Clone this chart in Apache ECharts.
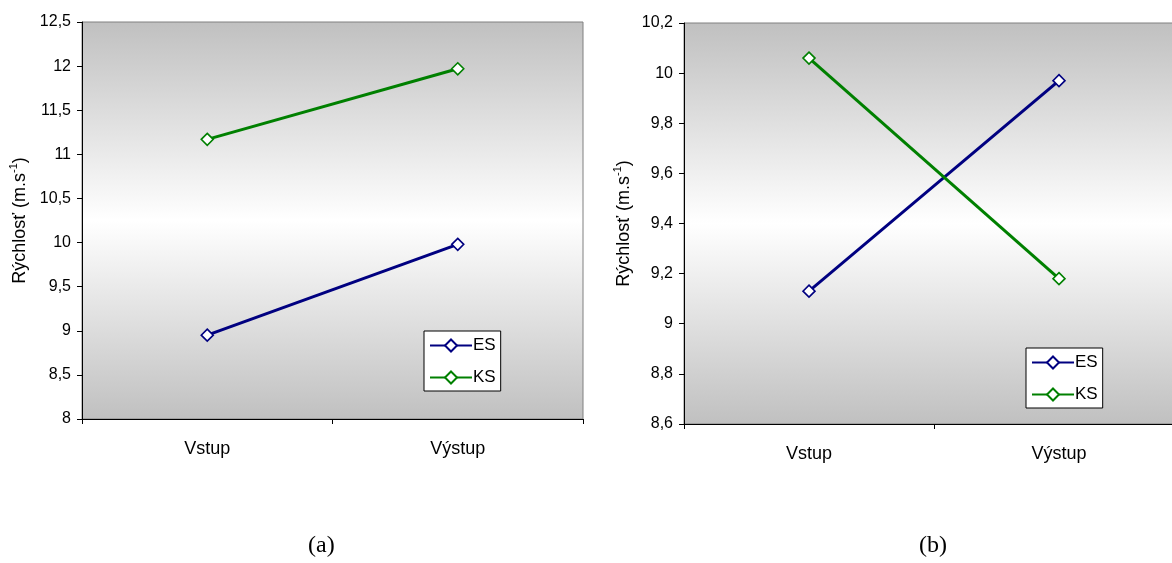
<!DOCTYPE html>
<html>
<head>
<meta charset="utf-8">
<style>
  html, body { margin: 0; padding: 0; background: #ffffff; }
  #chart { width: 1172px; height: 563px; }
</style>
<script src="https://cdn.jsdelivr.net/npm/echarts@6/dist/echarts.min.js"></script>
</head>
<body>
<div id="chart"></div>
<script>
// Categories on the x axis (measurement point)
const categories = ['Vstup', 'Výstup'];

// Panel (a): speed values
const esA = [8.95, 9.98];
const ksA = [11.17, 11.97];

// Panel (b): speed values
const esB = [9.13, 9.97];
const ksB = [10.06, 9.18];

// Series names and panel captions
const seriesNames = ['ES', 'KS'];
const panelCaptions = ['(a)', '(b)'];

const FONT = 'Liberation Sans, Arial, sans-serif';
const ES_COLOR = '#000080';
const KS_COLOR = '#008000';

const chart = echarts.init(document.getElementById('chart'), null, { renderer: 'canvas' });

const plotFill = {
  type: 'linear', x: 0, y: 0, x2: 0, y2: 1,
  colorStops: [
    { offset: 0, color: '#c0c0c0' },
    { offset: 0.5, color: '#ffffff' },
    { offset: 1, color: '#c0c0c0' }
  ]
};

function commaFmt(v) {
  return String(Number(v.toFixed(1))).replace('.', ',');
}

function yAxis(gridIndex, min, max, interval, nameGap) {
  return {
    type: 'value', gridIndex, min, max, interval,
    name: '{a|Rýchlosť (m.s}{b|-1}{a|)}',
    nameLocation: 'middle',
    nameGap,
    nameRotate: 90,
    nameTextStyle: {
      rich: {
        a: { fontFamily: FONT, fontSize: 18, color: '#000', lineHeight: 21, verticalAlign: 'bottom' },
        b: { fontFamily: FONT, fontSize: 11, color: '#000', lineHeight: 21, verticalAlign: 'top', padding: [0, 0, 6, 0] }
      }
    },
    axisLine: { show: true, lineStyle: { color: '#000', width: 1 } },
    axisTick: { show: true, inside: false, length: 5, lineStyle: { color: '#000' } },
    axisLabel: { fontFamily: FONT, fontSize: 16, color: '#000', margin: 11, formatter: commaFmt },
    splitLine: { show: false }
  };
}

function xAxis(gridIndex) {
  return {
    type: 'category', gridIndex, data: categories, boundaryGap: true,
    axisLine: { show: true, lineStyle: { color: '#000', width: 1 } },
    axisTick: { show: true, length: 5, alignWithLabel: false, lineStyle: { color: '#000' } },
    axisLabel: { fontFamily: FONT, fontSize: 18, color: '#000', margin: 21 },
    splitLine: { show: false }
  };
}

function lineSeries(name, data, color, idx) {
  return {
    type: 'line', name, data,
    xAxisIndex: idx, yAxisIndex: idx,
    symbol: 'diamond', symbolSize: 12,
    lineStyle: { color, width: 3 },
    itemStyle: { color: '#ffffff', borderColor: color, borderWidth: 1.6 },
    emphasis: { disabled: true },
    z: 3
  };
}

function legend(left, top) {
  return {
    data: seriesNames,
    orient: 'vertical',
    left, top,
    backgroundColor: '#ffffff',
    borderColor: '#000',
    borderWidth: 1,
    borderRadius: 0,
    padding: [6, 5, 5, 5],
    itemWidth: 42,
    itemHeight: 15,
    itemGap: 15,
    textStyle: { fontFamily: FONT, fontSize: 17, color: '#000', padding: [0, 0, 0, -4] },
    selectedMode: false
  };
}

const option = {
  animation: false,
  backgroundColor: '#ffffff',
  grid: [
    { left: 82, width: 501, top: 22, height: 397, outerBoundsMode: 'none', show: true, backgroundColor: plotFill, borderColor: '#808080', borderWidth: 1 },
    { left: 684, width: 500, top: 23, height: 401, outerBoundsMode: 'none', show: true, backgroundColor: plotFill, borderColor: '#808080', borderWidth: 1 }
  ],
  xAxis: [xAxis(0), xAxis(1)],
  yAxis: [yAxis(0, 8, 12.5, 0.5, 53), yAxis(1, 8.6, 10.2, 0.2, 51)],
  legend: [legend(424, 331), legend(1026, 348)],
  series: [
    lineSeries(seriesNames[0], esA, ES_COLOR, 0),
    lineSeries(seriesNames[1], ksA, KS_COLOR, 0),
    lineSeries(seriesNames[0], esB, ES_COLOR, 1),
    lineSeries(seriesNames[1], ksB, KS_COLOR, 1)
  ],
  graphic: [
    { type: 'text', left: 308, top: 534, style: { text: panelCaptions[0], fontFamily: 'Liberation Serif, Times New Roman, serif', fontSize: 24, fill: '#000' } },
    { type: 'text', left: 919, top: 534, style: { text: panelCaptions[1], fontFamily: 'Liberation Serif, Times New Roman, serif', fontSize: 24, fill: '#000' } }
  ]
};

chart.setOption(option);
</script>
</body>
</html>
